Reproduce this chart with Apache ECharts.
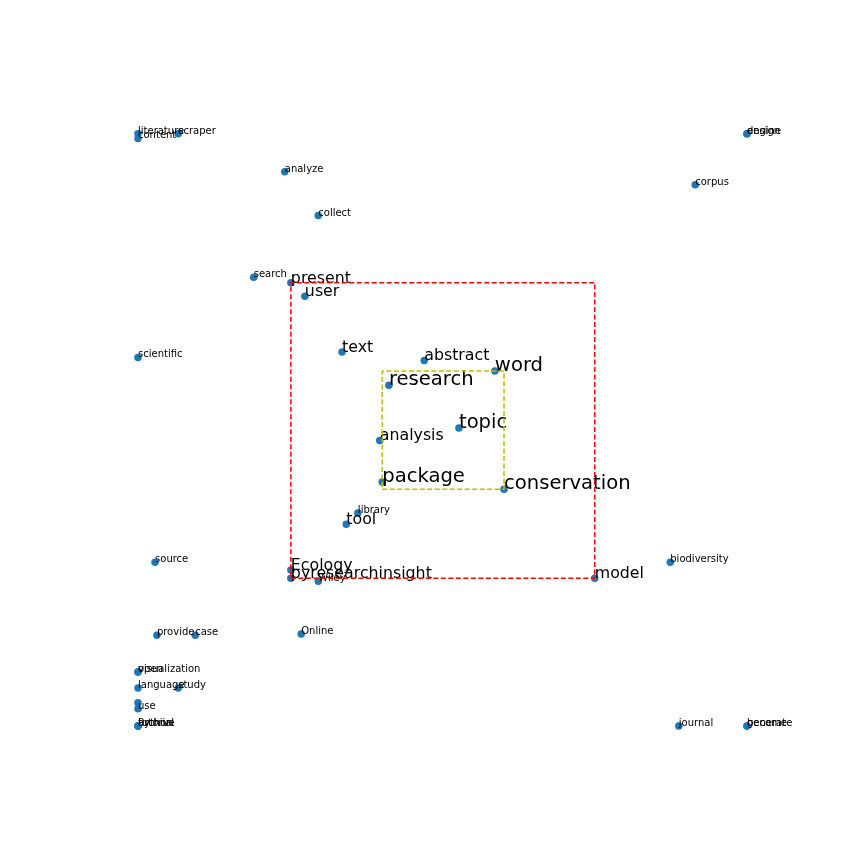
<!DOCTYPE html>
<html><head><meta charset="utf-8">
<script src="https://cdn.jsdelivr.net/npm/echarts@6/dist/echarts.min.js"></script>
<style>html,body{margin:0;padding:0;background:#fff}#c{width:864px;height:864px}</style>
</head><body><div id="c"></div>
<script>
// term map: labels, coordinates (0-100 scale), and importance tier (0 small,1 medium,2 large)
const terms = ["literature","content","scraper","engine","design","analyze","corpus","collect",
  "search","present","user","scientific","text","abstract","word","research","topic","analysis",
  "package","conservation","library","tool","source","biodiversity","Ecology","pyresearchinsight",
  "model","Wiley","provide","case","Online","open","visualization","language","study","","use",
  "Python","tutorial","archive","journal","become","generate"];
const xVals = [0,0,6.6,100,100,24.1,91.5,29.6,
  19.0,25.1,27.4,0,33.5,47.0,58.6,41.2,52.7,39.7,
  40.1,60.1,36.1,34.2,2.8,87.4,25.1,25.1,
  75.0,29.6,3.1,9.4,26.8,0,0,0,6.6,0,0,
  0,0,0,88.8,100,100];
const yVals = [99.8,99.0,99.8,99.8,99.8,93.4,91.2,86.0,
  75.6,74.7,72.4,62.1,63.0,61.6,59.8,57.4,50.2,48.1,
  41.1,39.9,35.9,34.0,27.6,27.6,26.3,24.9,
  24.9,24.4,15.3,15.3,15.5,9.1,9.1,6.4,6.4,3.9,2.9,
  0,0,0,0,0,0];
const tiers = [0,0,0,0,0,0,0,0,
  0,1,1,0,1,1,2,2,2,1,
  2,2,0,1,0,0,1,1,
  1,0,0,0,0,0,0,0,0,0,0,
  0,0,0,0,0,0];
// boxes defined by the terms at their corners
const redBoxTerms = ["present","model"];
const yellowBoxTerms = ["package","conservation","word"];

const fontSizes = [10, 15.8, 19.6];
const pts = terms.map((t,i)=>{
  const fs = fontSizes[tiers[i]];
  return {name:t, value:[xVals[i], yVals[i]],
    label:{fontSize:fs, offset:[0, fs*0.24]}};
});
function box(names){
  const idx = names.map(n=>terms.indexOf(n));
  const xs = idx.map(i=>xVals[i]), ys = idx.map(i=>yVals[i]);
  const x0=Math.min(...xs), x1=Math.max(...xs), y0=Math.min(...ys), y1=Math.max(...ys);
  return [[x0,y0],[x1,y0],[x1,y1],[x0,y1],[x0,y0]];
}
const chart = echarts.init(document.getElementById('c'));
chart.setOption({
  animation:false,
  backgroundColor:'#ffffff',
  grid:{left:138, top:132.5, width:609, height:593.5},
  xAxis:{type:'value', min:0, max:100, show:false},
  yAxis:{type:'value', min:0, max:100, show:false},
  series:[
    {type:'scatter', data:pts, symbolSize:7.5, clip:false, z:2,
      itemStyle:{color:'#1f77b4', opacity:1},
      label:{show:true, position:'inside', align:'left', verticalAlign:'bottom',
        color:'#000', fontFamily:'DejaVu Sans', formatter:p=>p.name}},
    {type:'line', data:box(redBoxTerms), symbol:'none', z:3,
      lineStyle:{color:'#ff0000', width:1.5, type:[5,2.5]}},
    {type:'line', data:box(yellowBoxTerms), symbol:'none', z:3,
      lineStyle:{color:'#bfbf00', width:1.5, type:[5,2.5]}}
  ]
});
</script></body></html>
